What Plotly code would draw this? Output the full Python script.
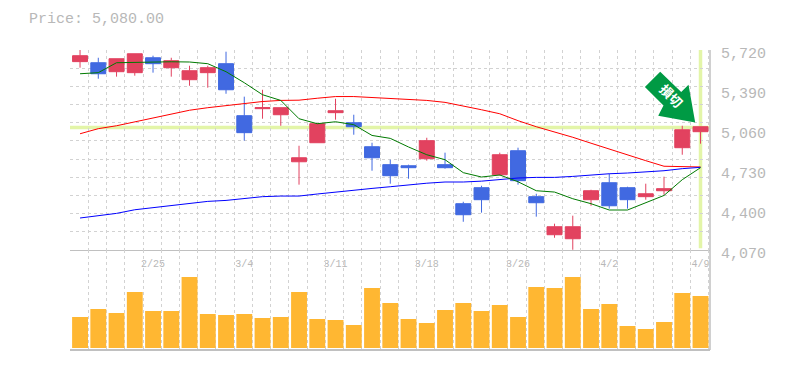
import plotly.graph_objects as go

dates = ["2/25", "3/4", "3/11", "3/18", "3/26", "4/2", "4/9"]
date_pos = [4, 9, 14, 19, 24, 29, 34]
price_ticks = [5720, 5390, 5060, 4730, 4400, 4070]
price_labels = ["5,720", "5,390", "5,060", "4,730", "4,400", "4,070"]
current_price = 5080

opens = [5624, 5615, 5541, 5533, 5656, 5574, 5475, 5533, 5607, 5178,
         5236, 5186, 4798, 4955, 5203, 5120, 4922, 4774, 4765, 4823,
         4774, 4452, 4584, 4691, 4889, 4510, 4196, 4163, 4485, 4625,
         4584, 4510, 4559, 4914, 5046]
highs = [5722, 5656, 5648, 5689, 5673, 5656, 5590, 5590, 5706, 5335,
         5392, 5244, 4930, 5116, 5318, 5186, 4955, 4815, 4774, 4996,
         4873, 4468, 4600, 4873, 4914, 4534, 4287, 4353, 4567, 4699,
         4592, 4617, 4675, 5095, 5087]
lows = [5574, 5483, 5500, 5508, 5533, 5500, 5425, 5409, 5359, 4972,
        5153, 5095, 4609, 4955, 5145, 5021, 4724, 4617, 4658, 4807,
        4741, 4303, 4378, 4683, 4609, 4345, 4171, 4072, 4435, 4411,
        4411, 4485, 4526, 4856, 4947]
closes = [5673, 5524, 5648, 5689, 5607, 5632, 5549, 5574, 5392, 5038,
          5244, 5244, 4831, 5112, 5219, 5087, 4831, 4683, 4749, 4972,
          4749, 4361, 4485, 4856, 4642, 4460, 4262, 4262, 4559, 4435,
          4485, 4534, 4576, 5062, 5087]
volumes = [31, 39, 35, 56, 37, 37, 71, 34, 33, 34, 30, 31, 56, 29, 28, 23, 60, 45,
           29, 25, 38, 45, 37, 43, 31, 61, 60, 71, 39, 44, 22, 19, 26, 55, 52]
ma_short = [5524, 5533, 5615, 5619, 5623, 5623, 5621, 5607, 5541, 5450,
            5351, 5304, 5153, 5112, 5128, 5104, 5015, 4991, 4920, 4856,
            4815, 4708, 4672, 4689, 4633, 4559, 4548, 4493, 4452, 4400,
            4400, 4463, 4520, 4650, 4749]
ma_mid = [5029, 5071, 5095, 5128, 5157, 5194, 5223, 5244, 5260, 5279,
          5295, 5304, 5306, 5322, 5336, 5336, 5329, 5318, 5314, 5304,
          5288, 5260, 5227, 5194, 5137, 5087, 5046, 5000, 4951, 4902,
          4852, 4807, 4761, 4755, 4755]
ma_long = [4334, 4355, 4372, 4402, 4419, 4435, 4458, 4471, 4479, 4493,
           4510, 4515, 4515, 4532, 4549, 4567, 4578, 4592, 4609, 4621,
           4631, 4631, 4638, 4654, 4664, 4669, 4669, 4677, 4691, 4699,
           4705, 4712, 4724, 4741, 4752]
idx = list(range(len(opens)))

GRID = "#d2d2d2"
AXIS = "#c0c0c0"
TEXT = "#b8b8b8"
LIME = "#e3f5a8"
RED = "#e2425f"
BLUE = "#4169e1"
MONO = "Liberation Mono"

fig = go.Figure()
fig.add_trace(go.Scatter(x=idx, y=ma_mid, mode="lines", line=dict(color="#ff0000", width=1), xaxis="x", yaxis="y"))
fig.add_trace(go.Scatter(x=idx, y=ma_long, mode="lines", line=dict(color="#0000ff", width=1), xaxis="x", yaxis="y"))
fig.add_trace(go.Scatter(x=idx, y=ma_short, mode="lines", line=dict(color="#007a00", width=1), xaxis="x", yaxis="y"))
fig.add_trace(go.Candlestick(
    x=idx, open=opens, high=highs, low=lows, close=closes,
    increasing=dict(line=dict(color=RED, width=1), fillcolor=RED),
    decreasing=dict(line=dict(color=BLUE, width=1), fillcolor=BLUE),
    whiskerwidth=0, xaxis="x", yaxis="y"))
fig.add_trace(go.Bar(x=idx, y=volumes, marker=dict(color="#ffb732", line=dict(width=0)), width=0.87,
                     xaxis="x", yaxis="y2"))

xmin, xmax = -0.55, 34.52
minor_grid = dict(tickmode="linear", tick0=-0.55, dtick=1, showgrid=True, gridcolor=GRID,
                  griddash="3px,3px", gridwidth=1, ticklen=0)
fig.update_layout(
    width=777, height=362, showlegend=False, plot_bgcolor="white", paper_bgcolor="white",
    margin=dict(l=62, r=75, t=42, b=20), boxgap=0.18, boxgroupgap=0,
    title=dict(text="Price: 5,080.00", x=21 / 777, y=1 - 10 / 362, xref="container", yref="container",
               xanchor="left", yanchor="middle", font=dict(family=MONO, size=15, color=TEXT)),
    xaxis=dict(range=[xmin, xmax], anchor="y", automargin=False, tickmode="array", tickvals=date_pos,
               ticktext=dates, rangeslider=dict(visible=False), showgrid=False, zeroline=False, showline=True,
               linecolor=AXIS, linewidth=1, ticks="", ticklen=0, ticklabelstandoff=4,
               tickfont=dict(family=MONO, size=10, color=TEXT), minor=minor_grid),
    yaxis=dict(domain=[1 / 3, 1], range=[4070, 5720], side="right", automargin=False, tickmode="array",
               tickvals=price_ticks, ticktext=price_labels, ticks="", showgrid=False, zeroline=False,
               ticklabelstandoff=10, ticklabelshift=3, tickfont=dict(family=MONO, size=15, color=TEXT),
               minor=dict(tickmode="linear", tick0=4070, dtick=150, showgrid=True, gridcolor=GRID,
                          griddash="3px,3px", gridwidth=1, ticklen=0)),
    yaxis2=dict(domain=[0, 1 / 3], range=[-2, 98], automargin=False, showticklabels=False, showgrid=False,
                zeroline=False, ticks="", anchor="x"),
    shapes=[
        dict(type="line", xref="x", yref="y", x0=xmin, x1=xmax, y0=current_price, y1=current_price,
             line=dict(color=LIME, width=3.5), layer="below"),
        dict(type="line", xref="x", yref="y", x0=34, x1=34, y0=4085, y1=5720,
             line=dict(color=LIME, width=3.5), layer="below"),
        dict(type="line", xref="paper", yref="paper", x0=1, x1=1, y0=0, y1=1,
             line=dict(color=AXIS, width=1.5)),
        dict(type="line", xref="paper", yref="paper", x0=0, x1=1, y0=0, y1=0,
             line=dict(color=AXIS, width=2)),
        dict(type="path", xref="x", yref="y", xsizemode="pixel", ysizemode="pixel",
             xanchor=34, yanchor=current_price,
             path="M -40.3 55.9 L -55.6 40.6 L -37 22.2 L -42.3 11.9 L -5.3 5.2 L -12 42.9 L -19.3 35.6 Z",
             fillcolor="#009a44", line=dict(width=0),
             label=dict(text="<b>損切</b>", textangle=45, textposition="middle center",
                        font=dict(family="Noto Sans CJK JP", size=13, color="white"))),
    ],
)
fig.write_html("out.html")
